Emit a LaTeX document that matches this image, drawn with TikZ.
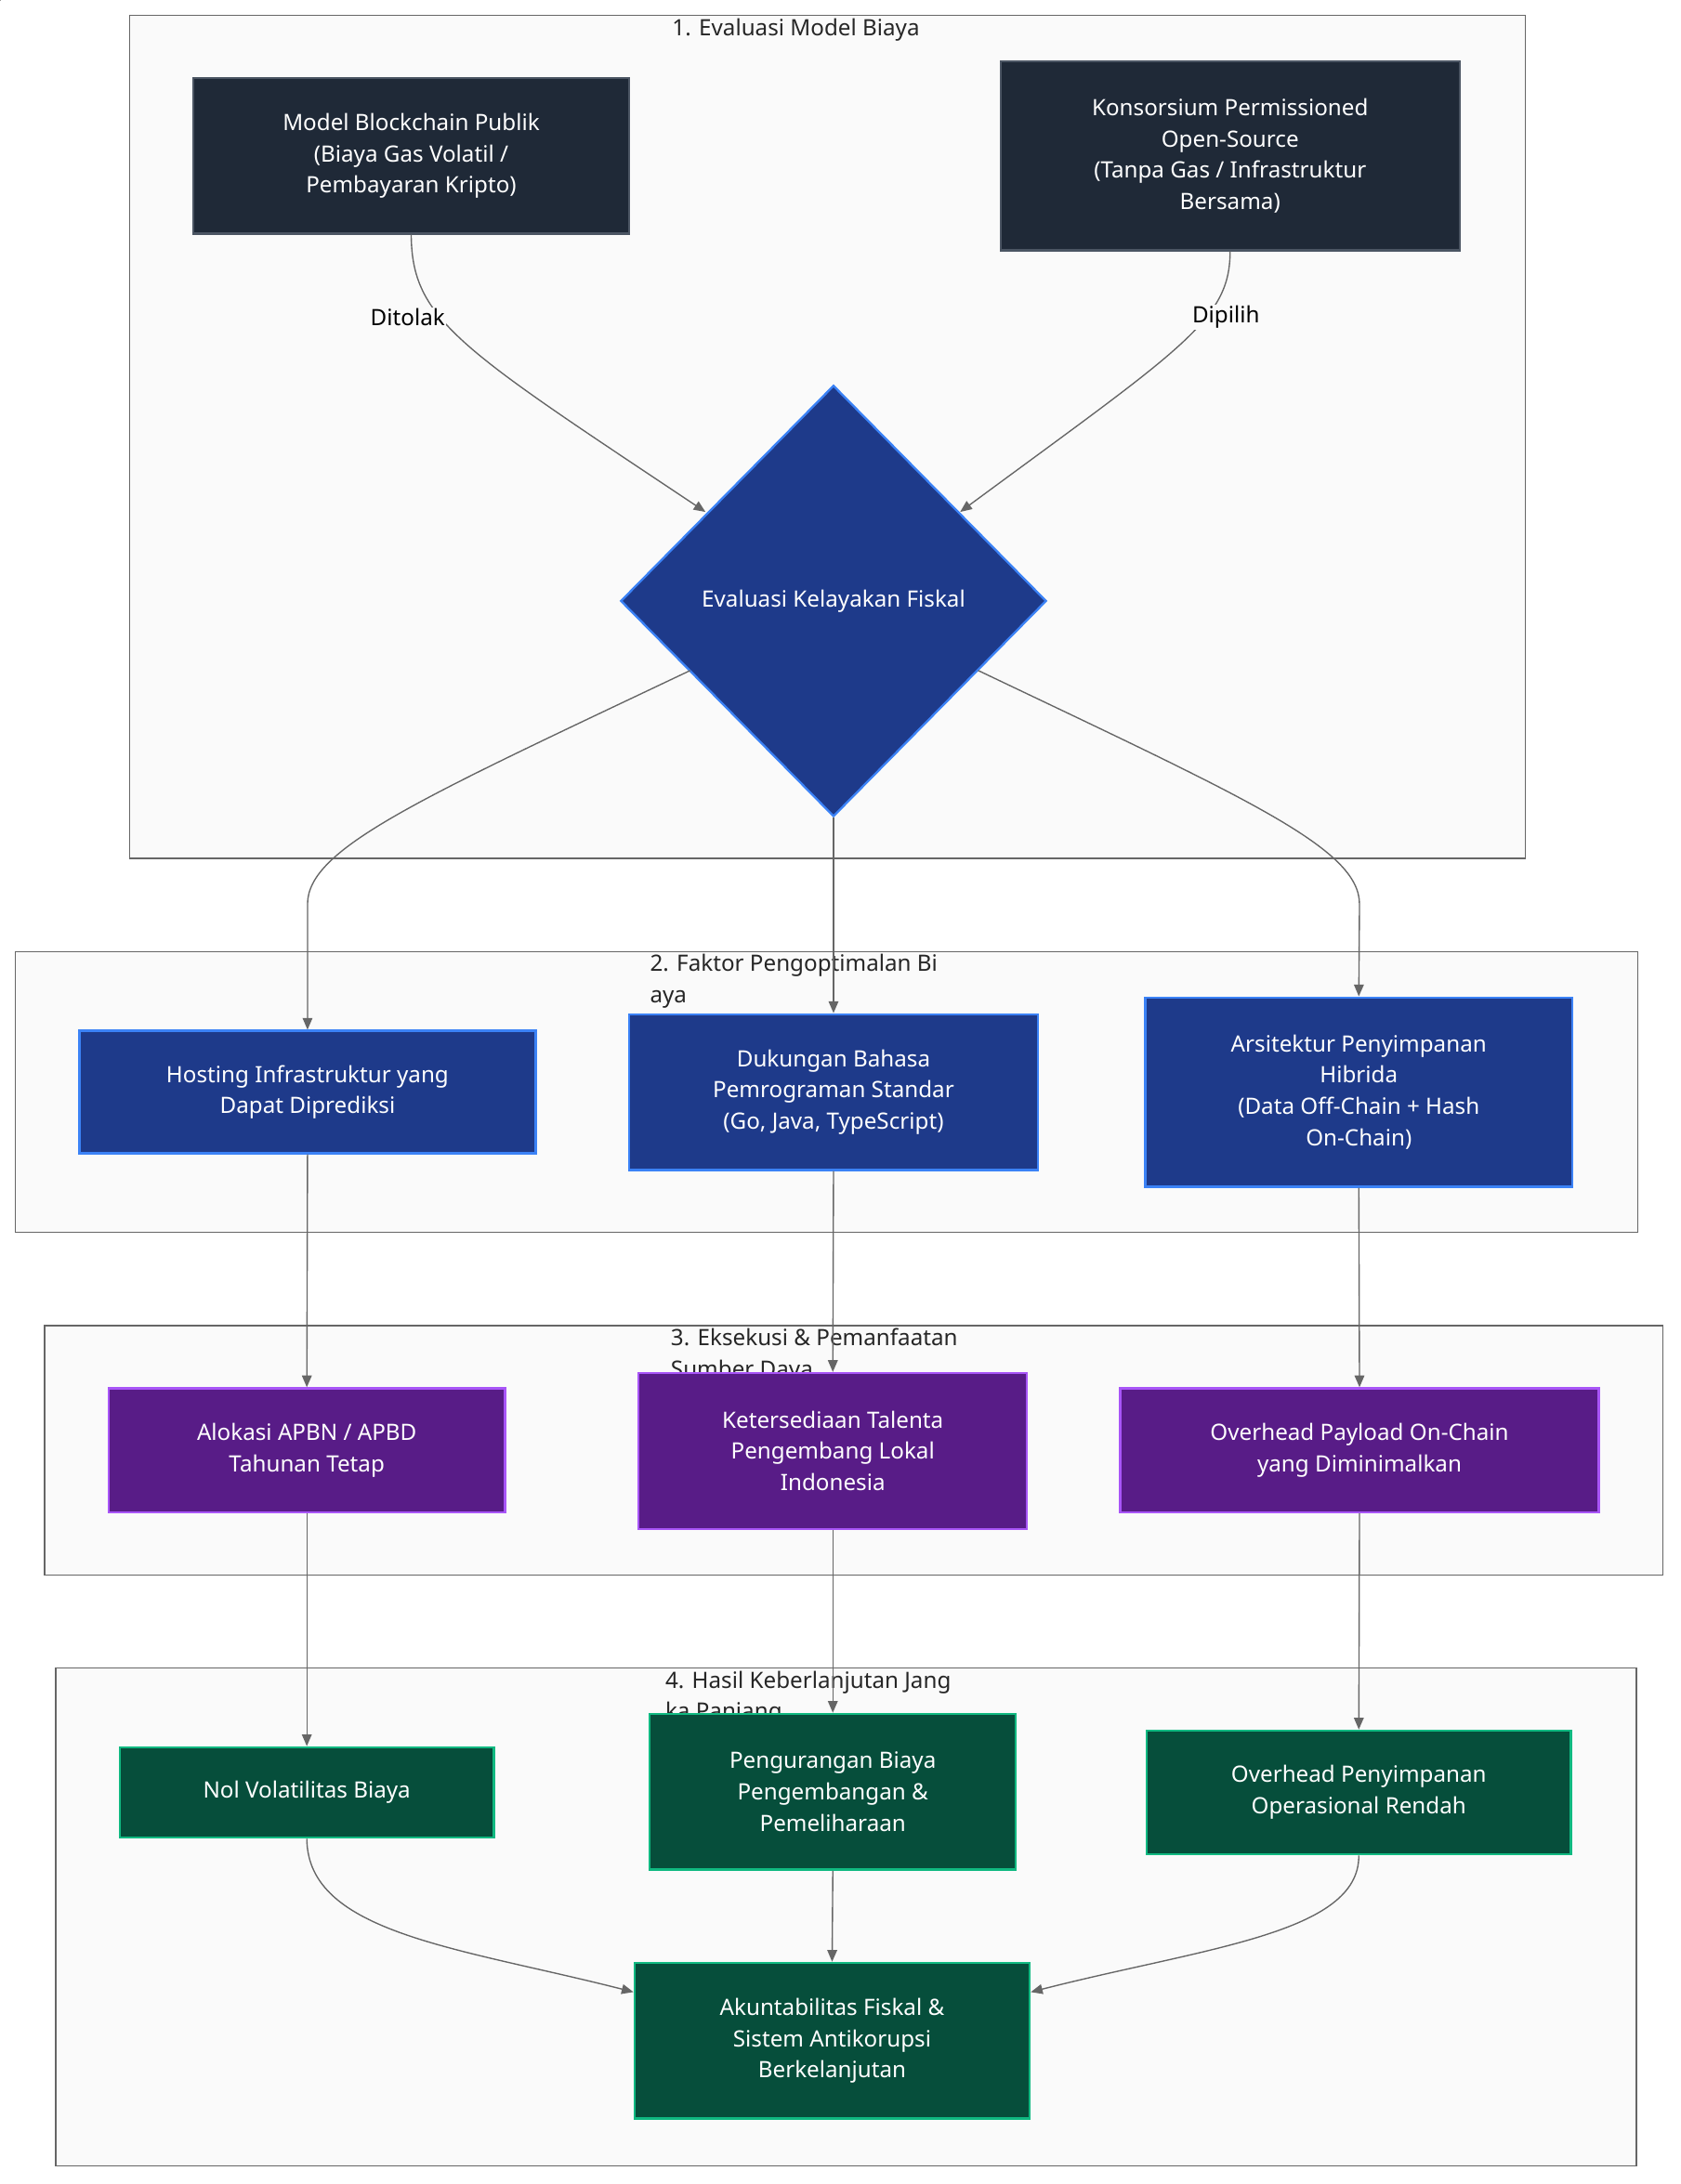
\documentclass[tikz,border=0pt]{standalone}
\usepackage{fontspec}
\setmainfont{Noto Sans}
\usetikzlibrary{arrows.meta,shapes.geometric}
\definecolor{cl}{HTML}{FAFAFA}
\definecolor{clb}{HTML}{666666}
\definecolor{dk}{HTML}{1F2937}\definecolor{dkb}{HTML}{4B5563}
\definecolor{bl}{HTML}{1E3A8A}\definecolor{blb}{HTML}{3B82F6}
\definecolor{pu}{HTML}{581C87}\definecolor{pub}{HTML}{A855F7}
\definecolor{gr}{HTML}{064E3B}\definecolor{grb}{HTML}{10B981}
\begin{document}
\begin{tikzpicture}[x=0.05cm,y=-0.05cm,
 font=\fontsize{23}{32}\selectfont,
 clu/.style={draw=clb,fill=cl,line width=1.2pt},
 ttl/.style={text=black!85,anchor=north west,inner sep=0pt},
 box/.style={draw=#1b,fill=#1,line width=2.2pt,text=white,align=center},
 arr/.style={draw=clb,line width=1.3pt,-{Triangle[length=12pt,width=10pt]}},
 lbl/.style={fill=cl,inner sep=1pt,text=black}]
\useasboundingbox[fill=white] (0,0) rectangle (1208,1570);
\node[clu,minimum width=0,inner sep=0,fit/.style={}] (c1) at (0,0) {};
\path[clu] (93,11) rectangle (1096,617);
\node[ttl] (t1) at (483,13) {1. Evaluasi Model Biaya};
\path[clu] (11,684) rectangle (1177,886);
\node[ttl,align=left] (t2) at (467,686) {2. Faktor Pengoptimalan Bi\\aya};
\path[clu] (32,953) rectangle (1195,1132);
\node[ttl,align=left] (t3) at (482,955) {3. Eksekusi \& Pemanfaatan\\Sumber Daya};
\path[clu] (40,1199) rectangle (1176,1557);
\node[ttl,align=left] (t4) at (478,1201) {4. Hasil Keberlanjutan Jang\\ka Panjang};

\node[box=dk,minimum width=313*0.05cm,minimum height=112*0.05cm] (A) at (295.5,112) {Model Blockchain Publik\\(Biaya Gas Volatil /\\Pembayaran Kripto)};
\node[box=dk,minimum width=330*0.05cm,minimum height=136*0.05cm] (B) at (884,112) {Konsorsium Permissioned\\Open-Source\\(Tanpa Gas / Infrastruktur\\Bersama)};
\node[diamond,draw=blb,fill=bl,line width=2.2pt,text=white,minimum width=306*0.05cm,minimum height=310*0.05cm,inner sep=0] (D) at (599,432) {Evaluasi Kelayakan Fiskal};

\node[box=bl,minimum width=328*0.05cm,minimum height=88*0.05cm] (H1) at (221,785) {Hosting Infrastruktur yang\\Dapat Diprediksi};
\node[box=bl,minimum width=294*0.05cm,minimum height=112*0.05cm] (H2) at (599,785) {Dukungan Bahasa\\Pemrograman Standar\\(Go, Java, TypeScript)};
\node[box=bl,minimum width=307*0.05cm,minimum height=136*0.05cm] (H3) at (976.5,785) {Arsitektur Penyimpanan\\Hibrida\\(Data Off-Chain + Hash\\On-Chain)};

\node[box=pu,minimum width=285*0.05cm,minimum height=89*0.05cm] (P1) at (220.5,1042.5) {Alokasi APBN / APBD\\Tahunan Tetap};
\node[box=pu,minimum width=279*0.05cm,minimum height=112*0.05cm] (P2) at (598.5,1043) {Ketersediaan Talenta\\Pengembang Lokal\\Indonesia};
\node[box=pu,minimum width=344*0.05cm,minimum height=89*0.05cm] (P3) at (977,1042.5) {Overhead Payload On-Chain\\yang Diminimalkan};

\node[box=gr,minimum width=269*0.05cm,minimum height=65*0.05cm] (G1) at (220.5,1288.5) {Nol Volatilitas Biaya};
\node[box=gr,minimum width=263*0.05cm,minimum height=112*0.05cm] (G2) at (598.5,1288) {Pengurangan Biaya\\Pengembangan \&\\Pemeliharaan};
\node[box=gr,minimum width=305*0.05cm,minimum height=89*0.05cm] (G3) at (976.5,1288.5) {Overhead Penyimpanan\\Operasional Rendah};
\node[box=gr,minimum width=284*0.05cm,minimum height=112*0.05cm] (F) at (598,1467) {Akuntabilitas Fiskal \&\\Sistem Antikorupsi\\Berkelanjutan};

\coordinate (Dl) at (507,368); \coordinate (Dr) at (690,368);
\draw[arr] (A.south) .. controls (296,230) and (330,250) .. (Dl);
\draw[arr] (B.south) .. controls (884,230) and (850,250) .. (Dr);
\node[lbl] (l1) at (293,228) {Ditolak};
\node[lbl] (l2) at (881,228) {Dipilih};
\coordinate (Dw) at (496,482); \coordinate (De) at (703,482);
\draw[arr] (Dw) .. controls (300,575) and (221,610) .. (221,650) -- (H1.north);
\draw[arr] (D.south) -- (H2.north);
\draw[arr] (De) .. controls (898,575) and (977,610) .. (977,650) -- (H3.north);
\draw[arr] (H1.south) -- (P1.north);
\draw[arr] (H2.south) -- (P2.north);
\draw[arr] (H3.south) -- (P3.north);
\draw[arr] (P1.south) -- (G1.north);
\draw[arr] (P2.south) -- (G2.north);
\draw[arr] (P3.south) -- (G3.north);
\draw[arr] (G1.south) .. controls (221,1390) and (330,1400) .. (F.west|-0,1432);
\draw[arr] (G2.south) -- (F.north);
\draw[arr] (G3.south) .. controls (977,1390) and (866,1400) .. (F.east|-0,1432);
\end{tikzpicture}
\end{document}
